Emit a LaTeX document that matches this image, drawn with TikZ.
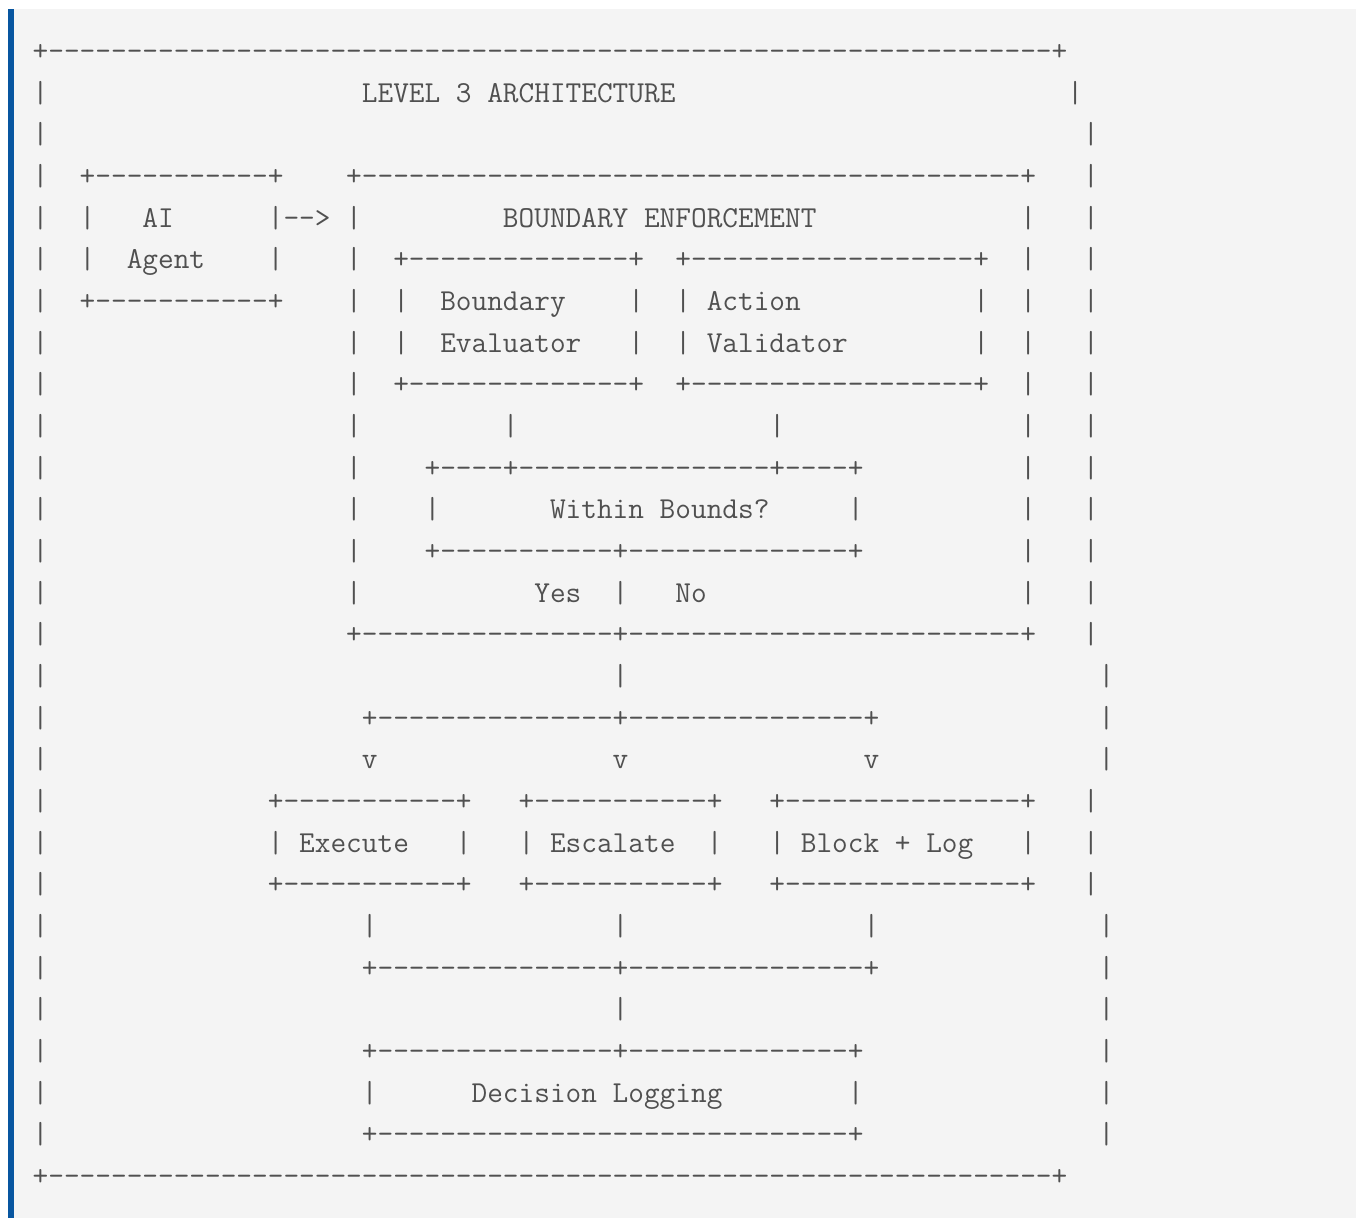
\documentclass[tikz,border=0pt]{standalone}
\usepackage{tikz}

\definecolor{panelgray}{HTML}{F4F4F4}
\definecolor{barblue}{RGB}{8,86,160}
\definecolor{codegray}{HTML}{505050}

% blank columns and runs of dashes, one character cell each
\newcommand{\gap}[1]{\hspace*{#1\fontcharwd\font`x}}
\newcommand{\dsh}[1]{\foreach \k in {1,...,#1}{-}}

\tikzset{
  asciirow/.style={anchor=base west, inner sep=0pt, text=codegray,
    font=\ttfamily\fontsize{15.22pt}{16pt}\selectfont}
}

\begin{document}
\begin{tikzpicture}[x=0.5pt, y=-0.5pt]
    \useasboundingbox (0,0) rectangle (1356,1218);
    % panel
    \fill[white] (0,0) rectangle (1356,1218);
    \fill[panelgray] (14,9) rectangle (1356,1218);
    \fill[barblue] (8,9) rectangle (14,1218);

    % outer frame and agent
    \node[asciirow] (r1) at (32.3,60.5) {+\dsh{64}+};
    \node[asciirow] (r2) at (32.3,102.2) {|\gap{20}LEVEL 3 ARCHITECTURE\gap{25}|};
    \node[asciirow] (r3) at (32.3,143.8) {|\gap{66}|};
    \node[asciirow] (r4) at (32.3,185.5) {|\gap{2}+\dsh{11}+\gap{4}+\dsh{42}+\gap{3}|};
    \node[asciirow] (r5) at (32.3,227.2) {|\gap{2}|\gap{3}AI\gap{6}|\dsh{2}>\gap{1}|\gap{9}BOUNDARY ENFORCEMENT\gap{13}|\gap{3}|};
    \node[asciirow] (r6) at (32.3,268.8) {|\gap{2}|\gap{2}Agent\gap{4}|\gap{4}|\gap{2}+\dsh{14}+\gap{2}+\dsh{18}+\gap{2}|\gap{3}|};
    \node[asciirow] (r7) at (32.3,310.5) {|\gap{2}+\dsh{11}+\gap{4}|\gap{2}|\gap{2}Boundary\gap{4}|\gap{2}|\gap{1}Action\gap{11}|\gap{2}|\gap{3}|};
    \node[asciirow] (r8) at (32.3,352.2) {|\gap{19}|\gap{2}|\gap{2}Evaluator\gap{3}|\gap{2}|\gap{1}Validator\gap{8}|\gap{2}|\gap{3}|};
    \node[asciirow] (r9) at (32.3,393.8) {|\gap{19}|\gap{2}+\dsh{14}+\gap{2}+\dsh{18}+\gap{2}|\gap{3}|};

    % within bounds check
    \node[asciirow] (r10) at (32.3,435.5) {|\gap{19}|\gap{9}|\gap{16}|\gap{15}|\gap{3}|};
    \node[asciirow] (r11) at (32.3,477.2) {|\gap{19}|\gap{4}+\dsh{4}+\dsh{16}+\dsh{4}+\gap{10}|\gap{3}|};
    \node[asciirow] (r12) at (32.3,518.8) {|\gap{19}|\gap{4}|\gap{7}Within Bounds?\gap{5}|\gap{10}|\gap{3}|};
    \node[asciirow] (r13) at (32.3,560.5) {|\gap{19}|\gap{4}+\dsh{11}+\dsh{14}+\gap{10}|\gap{3}|};
    \node[asciirow] (r14) at (32.3,602.2) {|\gap{19}|\gap{11}Yes\gap{2}|\gap{3}No\gap{20}|\gap{3}|};
    \node[asciirow] (r15) at (32.3,643.8) {|\gap{19}+\dsh{16}+\dsh{25}+\gap{3}|};

    % three outcomes
    \node[asciirow] (r16) at (32.3,685.5) {|\gap{36}|\gap{30}|};
    \node[asciirow] (r17) at (32.3,727.2) {|\gap{20}+\dsh{15}+\dsh{15}+\gap{14}|};
    \node[asciirow] (r18) at (32.3,768.8) {|\gap{20}v\gap{15}v\gap{15}v\gap{14}|};
    \node[asciirow] (r19) at (32.3,810.5) {|\gap{14}+\dsh{11}+\gap{3}+\dsh{11}+\gap{3}+\dsh{15}+\gap{3}|};
    \node[asciirow] (r20) at (32.3,852.2) {|\gap{14}|\gap{1}Execute\gap{3}|\gap{3}|\gap{1}Escalate\gap{2}|\gap{3}|\gap{1}Block + Log\gap{3}|\gap{3}|};
    \node[asciirow] (r21) at (32.3,893.8) {|\gap{14}+\dsh{11}+\gap{3}+\dsh{11}+\gap{3}+\dsh{15}+\gap{3}|};
    \node[asciirow] (r22) at (32.3,935.5) {|\gap{20}|\gap{15}|\gap{15}|\gap{14}|};
    \node[asciirow] (r23) at (32.3,977.2) {|\gap{20}+\dsh{15}+\dsh{15}+\gap{14}|};

    % logging
    \node[asciirow] (r24) at (32.3,1018.8) {|\gap{36}|\gap{30}|};
    \node[asciirow] (r25) at (32.3,1060.5) {|\gap{20}+\dsh{15}+\dsh{14}+\gap{15}|};
    \node[asciirow] (r26) at (32.3,1102.2) {|\gap{20}|\gap{6}Decision Logging\gap{8}|\gap{15}|};
    \node[asciirow] (r27) at (32.3,1143.8) {|\gap{20}+\dsh{30}+\gap{15}|};
    \node[asciirow] (r28) at (32.3,1185.5) {+\dsh{64}+};
\end{tikzpicture}
\end{document}
